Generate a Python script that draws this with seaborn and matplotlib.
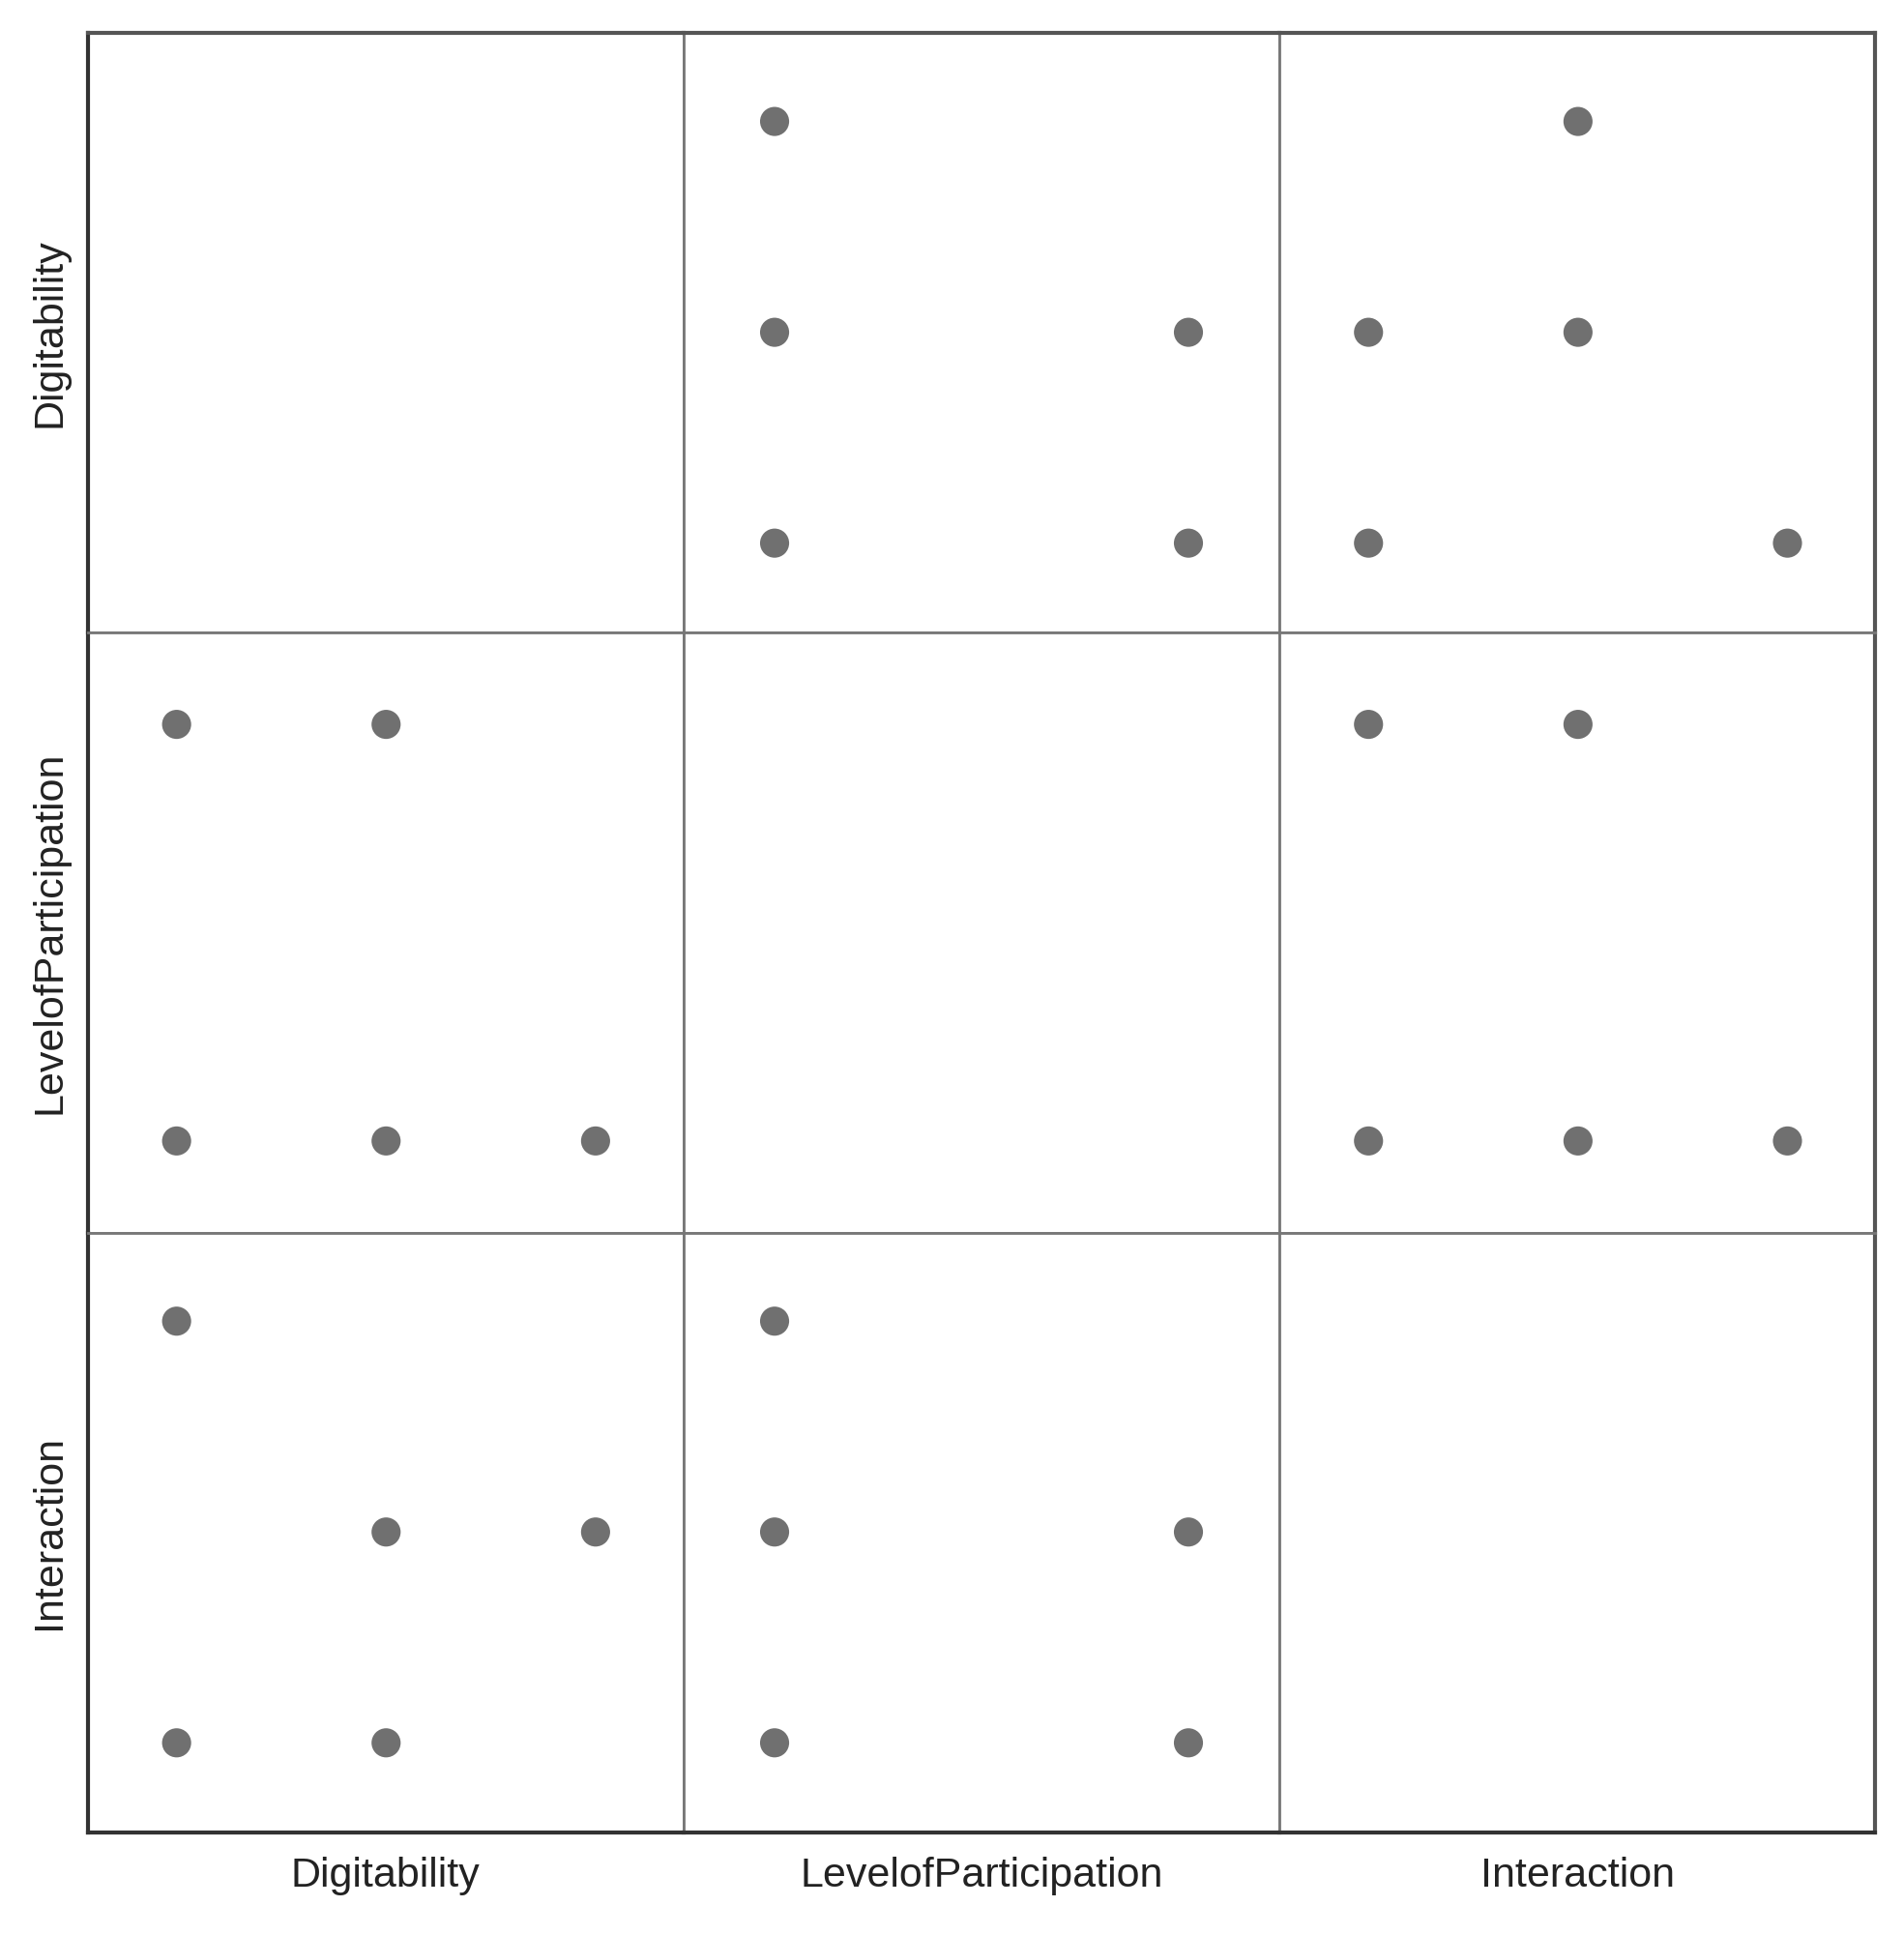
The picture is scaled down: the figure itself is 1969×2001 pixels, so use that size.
import matplotlib
matplotlib.use("Agg")
import matplotlib.pyplot as plt
import seaborn as sns
import pandas as pd

variables = ["Digitability", "LevelofParticipation", "Interaction"]
digitability = [1, 3, 2, 1, 2]
level_of_participation = [1, 1, 2, 2, 1]
interaction = [3, 2, 2, 1, 1]

df = pd.DataFrame({"Digitability": digitability,
                   "LevelofParticipation": level_of_participation,
                   "Interaction": interaction})

sns.set_style("white")
plt.rcParams['font.family'] = ['Liberation Sans', 'DejaVu Sans']

g = sns.PairGrid(df, vars=variables, height=6.56, aspect=1.0, diag_sharey=False)
g.map_offdiag(sns.scatterplot, color="#707070", s=470, edgecolor="none")
g.figure.set_size_inches(19.69, 20.01)
g.figure.subplots_adjust(left=0.046, right=0.985, top=0.983, bottom=0.053, wspace=0, hspace=0)

lims = {"Digitability": (0.575, 3.42), "LevelofParticipation": (0.78, 2.22), "Interaction": (0.575, 3.42)}
n = len(variables)
for i in range(n):
    for j in range(n):
        ax = g.axes[i, j]
        ax.set_xlim(lims[variables[j]])
        ax.set_ylim(lims[variables[i]])
        ax.set_xticks([]); ax.set_yticks([])
        ax.set_xlabel(""); ax.set_ylabel("")
        for s in ax.spines.values():
            s.set_visible(True); s.set_color("#777777"); s.set_linewidth(2)
        if i == 0: ax.spines["top"].set_color("#555555"); ax.spines["top"].set_linewidth(3)
        if i == n-1: ax.spines["bottom"].set_color("#333333"); ax.spines["bottom"].set_linewidth(3)
        if j == 0: ax.spines["left"].set_color("#333333"); ax.spines["left"].set_linewidth(3)
        if j == n-1: ax.spines["right"].set_color("#555555"); ax.spines["right"].set_linewidth(3)
for i in range(n):
    g.axes[n-1, i].set_xlabel(variables[i], fontsize=31, color="#222222", labelpad=18)
    g.axes[i, 0].set_ylabel(variables[i], fontsize=31, color="#222222", labelpad=14)

g.figure.savefig("out.png", dpi=100)
